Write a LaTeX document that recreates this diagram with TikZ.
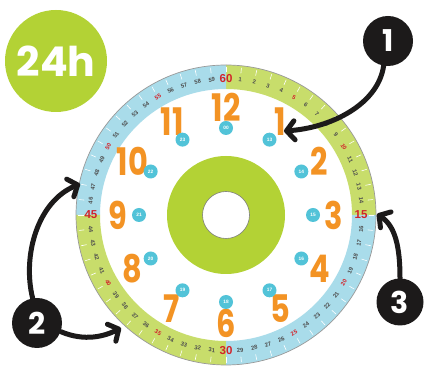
\documentclass[tikz,border=0pt]{standalone}
\usepackage{fontspec}
\setmainfont{Poppins}
\newfontfamily\minfont{Liberation Sans}
\usetikzlibrary{arrows.meta}
\definecolor{ringgreen}{HTML}{C8DD6B}
\definecolor{ringblue}{HTML}{A9DCEA}
\definecolor{limeg}{HTML}{B3D235}
\definecolor{orng}{HTML}{F39324}
\definecolor{dotblue}{HTML}{52C3D8}
\definecolor{minred}{HTML}{D2232A}
\definecolor{mingray}{HTML}{4D4D4D}
\definecolor{badgeblack}{HTML}{1C1A1A}
\begin{document}
\begin{tikzpicture}[x=1pt,y=1pt,
  minnum/.style={font=\minfont\bfseries\fontsize{5.8}{6}\selectfont, inner sep=0pt},
  bignum/.style={font=\minfont\bfseries\fontsize{11.5}{12}\selectfont, text=minred, inner sep=0pt},
  hournum/.style={font=\bfseries\fontsize{38}{38}\selectfont, text=orng, inner sep=0pt},
  dot/.style={circle, fill=dotblue, minimum size=14pt, inner sep=0pt, text=white, font=\minfont\bfseries\fontsize{4.8}{5}\selectfont},
  badge/.style={circle, fill=badgeblack, minimum size=50pt, inner sep=0pt, text=white, font=\bfseries\fontsize{30}{30}\selectfont},
  pointer/.style={draw=badgeblack, line width=5pt, line cap=round, -{Straight Barb[length=8pt,width=19pt,round]}}
]
\useasboundingbox (0,0) rectangle (428,366);
\fill[white] (0,0) rectangle (428,366);
\begin{scope}[shift={(226,151)}]
  % ring quadrants
  \fill[ringgreen] (0:150) arc[start angle=0,end angle=90,radius=150] -- (90:126) arc[start angle=90,end angle=0,radius=126] -- cycle;
  \fill[ringblue] (90:150) arc[start angle=90,end angle=180,radius=150] -- (180:126) arc[start angle=180,end angle=90,radius=126] -- cycle;
  \fill[ringgreen] (180:150) arc[start angle=180,end angle=270,radius=150] -- (270:126) arc[start angle=270,end angle=180,radius=126] -- cycle;
  \fill[ringblue] (270:150) arc[start angle=270,end angle=360,radius=150] -- (0:126) arc[start angle=360,end angle=270,radius=126] -- cycle;
  \draw[gray!80, line width=0.7pt] (0,0) circle[radius=150];
  % ticks
  \foreach \m in {0,...,59}{
    \draw[white, line width=0.6pt] (90-6*\m:142.5) -- (90-6*\m:148);
  }
  % minute numbers
  \foreach \m in {1,...,59}{
    \pgfmathtruncatemacro\five{mod(\m,5)==0}
    \pgfmathtruncatemacro\quarter{mod(\m,15)==0}
    \pgfmathsetmacro\ang{90-6*\m}
    \pgfmathsetmacro\rot{(\m<15 || \m>45) ? \ang-90 : \ang+90}
    \ifnum\quarter=0
      \ifnum\five=1 \def\mc{minred}\else\def\mc{mingray}\fi
      \node[minnum, text=\mc, rotate=\rot] (m\m) at (\ang:136) {\m};
    \fi
  }
  \node[bignum] (m60) at (90:136) {60};
  \node[bignum] (m15) at (0:135) {15};
  \node[bignum] (m30) at (270:136) {30};
  \node[bignum] (m45) at (180:135) {45};
  % donut
  \fill[limeg, even odd rule] (0,0) circle[radius=59] (0,0) circle[radius=23.5];
  \draw[gray, line width=0.6pt] (0,0) circle[radius=23.5];
  % hours
  \foreach \h in {1,...,12}{
    \pgfmathsetmacro\ang{90-30*\h}
    \node[hournum] (h\h) at (\ang:108) {\scalebox{0.8}[1]{\h}};
  }
  \foreach \h/\d in {1/13,2/14,3/15,4/16,5/17,6/18,7/19,8/20,9/21,10/22,11/23,12/00}{
    \pgfmathsetmacro\ang{90-30*\h}
    \node[dot] (d\h) at (\ang:87) {\d};
  }
\end{scope}
% 24h badge
\node[circle, fill=limeg, minimum size=102pt, inner sep=0pt, text=white, font=\bfseries\fontsize{41}{41}\selectfont] (b24) at (56,305) {24h};
% numbered badges
\node[badge] (b1) at (388,325) {1};
\node[badge, minimum size=47pt] (b3) at (400,64) {3};
\node[badge] (b2) at (37,43) {2};
\coordinate (t1) at (284,235);
\coordinate (t3) at (377,152);
\coordinate (t2a) at (80,182);
\coordinate (t2b) at (121,38);
\draw[pointer] (b1.-100) .. controls (378,261) and (330,238) .. (t1);
\draw[pointer] (b3.north) .. controls (400,120) and (395,140) .. (t3);
\draw[pointer] (b2.100) .. controls (22,111) and (38,165) .. (t2a);
\draw[pointer] (b2.-20) .. controls (85,24) and (105,30) .. (t2b);
\end{tikzpicture}
\end{document}
